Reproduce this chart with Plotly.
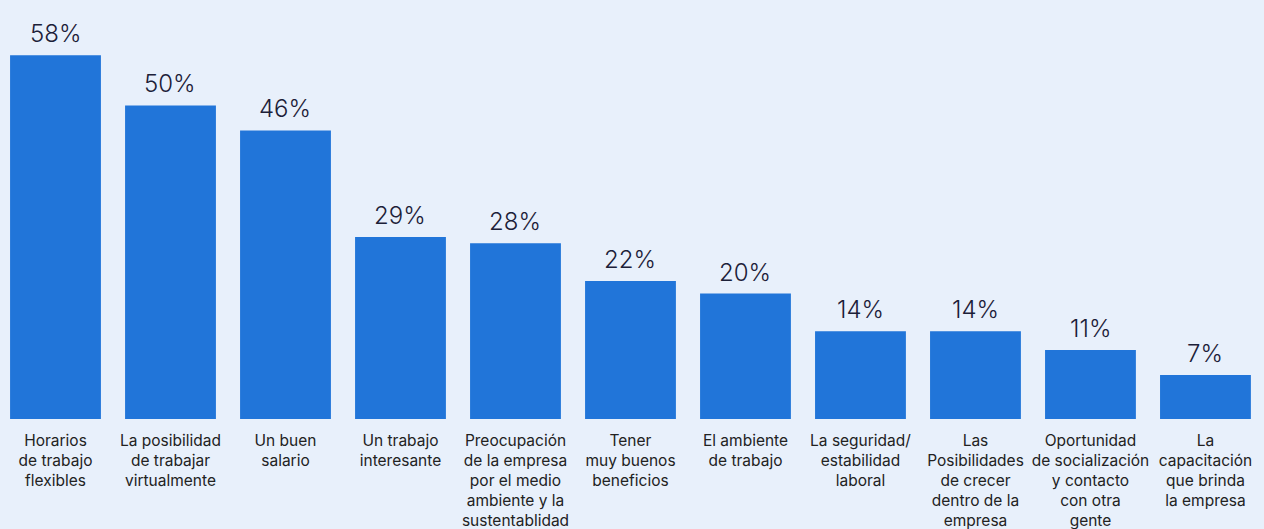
import plotly.graph_objects as go

# Data
categories = [
    "Horarios<br>de trabajo<br>flexibles",
    "La posibilidad<br>de trabajar<br>virtualmente",
    "Un buen<br>salario",
    "Un trabajo<br>interesante",
    "Preocupación<br>de la empresa<br>por el medio<br>ambiente y la<br>sustentablidad",
    "Tener<br>muy buenos<br>beneficios",
    "El ambiente<br>de trabajo",
    "La seguridad/<br>estabilidad<br>laboral",
    "Las<br>Posibilidades<br>de crecer<br>dentro de la<br>empresa",
    "Oportunidad<br>de socialización<br>y contacto<br>con otra<br>gente",
    "La<br>capacitación<br>que brinda<br>la empresa",
]
values = [58, 50, 46, 29, 28, 22, 20, 14, 14, 11, 7]
value_labels = [f"{v}%" for v in values]

BG = "#e8f0fb"
BAR = "#2175d9"
TEXT = "#1c2038"

fig = go.Figure()
fig.add_trace(
    go.Bar(
        x=categories,
        y=values,
        marker=dict(color=BAR, line=dict(width=0)),
        width=0.79,
        hoverinfo="skip",
    )
)

# percentage labels above each bar
for cat, v, lab in zip(categories, values, value_labels):
    fig.add_annotation(
        x=cat,
        y=v,
        text=lab,
        showarrow=False,
        yanchor="bottom",
        yshift=5,
        font=dict(family="Inter, sans-serif", size=24, color=TEXT, weight=300),
    )

fig.update_layout(
    width=1264,
    height=529,
    paper_bgcolor=BG,
    plot_bgcolor=BG,
    margin=dict(l=0, r=0, t=0, b=110),
    showlegend=False,
    xaxis=dict(
        range=[-0.4826, 10.509],
        showgrid=False,
        zeroline=False,
        showline=False,
        ticks="",
        ticklabelstandoff=10,
        tickfont=dict(family="Inter, sans-serif", size=15.5, color="#222222"),
        tickangle=0,
    ),
    yaxis=dict(
        range=[0, 66.8],
        visible=False,
        showgrid=False,
        zeroline=False,
    ),
)

# drop the default page margin so the chart fills the window
fig.write_html(
    "out.html",
    config={"displayModeBar": False},
    post_script="document.body.style.margin='0';",
)
